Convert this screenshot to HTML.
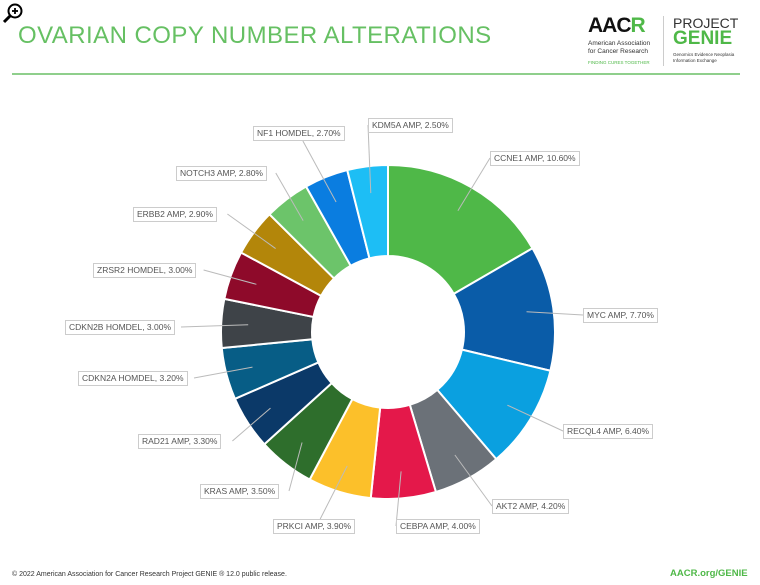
<!DOCTYPE html>
<html><head><meta charset="utf-8"><style>
body{margin:0;width:760px;height:585px;background:#fff;position:relative;overflow:hidden;font-family:"Liberation Sans",sans-serif}
.t{position:absolute;left:18px;top:22px;font-size:24px;color:#66c063;letter-spacing:0.45px;font-weight:normal}
.lab{position:absolute;height:13px;line-height:13px;font-size:8.5px;color:#555;border:1px solid #ccc;background:#fff;padding:0 3px;white-space:nowrap;box-sizing:content-box}
</style></head><body>
<svg width="22" height="22" style="position:absolute;left:2px;top:2px"><circle cx="13" cy="9" r="6.5" fill="#fff" stroke="#000" stroke-width="2"/><line x1="8" y1="14" x2="2" y2="20" stroke="#000" stroke-width="3"/><line x1="10" y1="9" x2="16" y2="9" stroke="#000" stroke-width="1.8"/><line x1="13" y1="6" x2="13" y2="12" stroke="#000" stroke-width="1.8"/></svg>
<div class="t">OVARIAN COPY NUMBER ALTERATIONS</div>
<div style="position:absolute;left:12px;top:73px;width:728px;height:1.5px;background:#8fcf8c"></div>
<div style="position:absolute;left:588px;top:14px;font-size:21px;font-weight:bold;color:#111;letter-spacing:-1px">AAC<span style="color:#4fb848">R</span></div>
<div style="position:absolute;left:588px;top:40px;font-size:6.5px;color:#333;line-height:8px">American Association<br>for Cancer Research</div>
<div style="position:absolute;left:588px;top:60px;font-size:4.5px;color:#4fb848">FINDING CURES TOGETHER</div>
<div style="position:absolute;left:663px;top:16px;width:1px;height:50px;background:#ccc"></div>
<div style="position:absolute;left:673px;top:15px;font-size:14px;color:#333">PROJECT</div>
<div style="position:absolute;left:673px;top:28px;font-size:19px;font-weight:bold;color:#4fb848">GENIE</div>
<div style="position:absolute;left:673px;top:52px;font-size:4.5px;color:#333;line-height:6px">Genomics Evidence Neoplasia<br>Information Exchange</div>
<svg id="c" width="760" height="585" style="position:absolute;left:0;top:0"></svg>
<div id="labs"></div>
<div style="position:absolute;left:12px;top:571px;font-size:7px;color:#333">© 2022 American Association for Cancer Research Project GENIE ® 12.0 public release.</div>
<div style="position:absolute;left:670px;top:568px;font-size:9.5px;font-weight:bold;color:#4fb848">AACR.org/GENIE</div>
<script>
var d=[["CCNE1 AMP, 10.60%",10.6,"#4fb848",490,151],["MYC AMP, 7.70%",7.7,"#0a5ca8",583,308],["RECQL4 AMP, 6.40%",6.4,"#0aa0e0",563,424],["AKT2 AMP, 4.20%",4.2,"#6b7178",492,499],["CEBPA AMP, 4.00%",4.0,"#e4184a",396,519],["PRKCI AMP, 3.90%",3.9,"#fcc02a",273,519],["KRAS AMP, 3.50%",3.5,"#2e6e2c",200,484],["RAD21 AMP, 3.30%",3.3,"#0b3968",138,434],["CDKN2A HOMDEL, 3.20%",3.2,"#075d86",78,371],["CDKN2B HOMDEL, 3.00%",3.0,"#3e4348",65,320],["ZRSR2 HOMDEL, 3.00%",3.0,"#8e0a2a",93,263],["ERBB2 AMP, 2.90%",2.9,"#b3860a",133,207],["NOTCH3 AMP, 2.80%",2.8,"#6cc46a",176,166],["NF1 HOMDEL, 2.70%",2.7,"#0a7de0",253,126],["KDM5A AMP, 2.50%",2.5,"#1dbef5",368,118]];
var cx=388,cy=332,R=167,r=76,tot=0;d.forEach(function(e){tot+=e[1]});
var s="",h="",a=0;
function P(rr,an){return [cx+rr*Math.sin(an),cy-rr*Math.cos(an)]}
d.forEach(function(e){var a0=a,a1=a+e[1]/tot*2*Math.PI;a=a1;var L=(a1-a0)>Math.PI?1:0;
var p1=P(R,a0),p2=P(R,a1),p3=P(r,a1),p4=P(r,a0);
s+='<path d="M'+p1+' A'+R+','+R+' 0 '+L+' 1 '+p2+' L'+p3+' A'+r+','+r+' 0 '+L+' 0 '+p4+'Z" fill="'+e[2]+'" stroke="#fff" stroke-width="2"/>';
var m=P(140,(a0+a1)/2);
var lx=e[3],ly=e[4]+7,w=e[0].length*5.4+8;
var tx=(lx+w/2<m[0])?lx+w:lx; if(Math.abs(lx+w/2-m[0])<40){tx=lx+w/2;ly=e[4]+(ly<cy?15:0);}
s+='<line x1="'+tx+'" y1="'+ly+'" x2="'+m[0]+'" y2="'+m[1]+'" stroke="#bbb" stroke-width="1"/>';
h+='<div class="lab" style="left:'+lx+'px;top:'+e[4]+'px">'+e[0]+'</div>';});
document.getElementById("c").innerHTML=s;document.getElementById("labs").innerHTML=h;
</script>
</body></html>
